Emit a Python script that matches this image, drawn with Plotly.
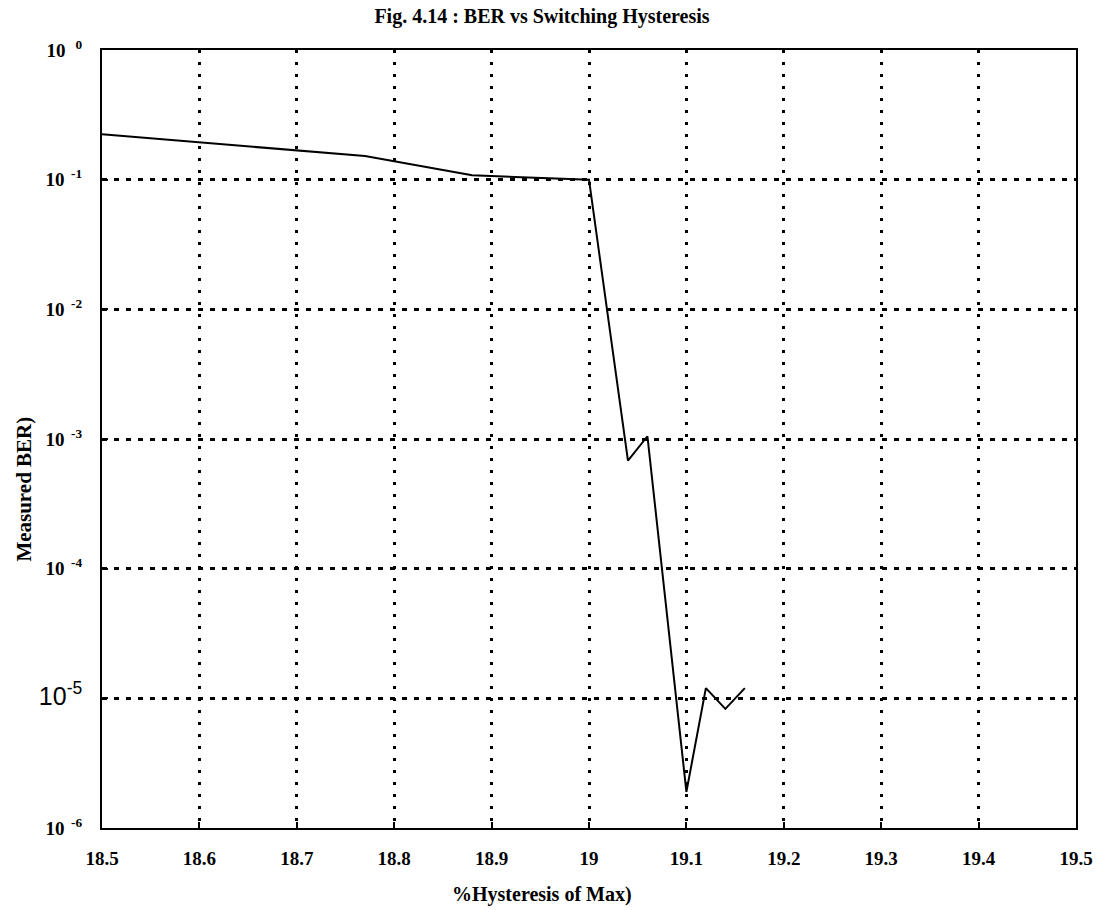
import plotly.graph_objects as go

hysteresis = [18.5, 18.77, 18.88, 19.0, 19.04, 19.06, 19.10, 19.12, 19.14, 19.16]
ber = [0.224, 0.152, 0.108, 0.1, 6.8e-4, 1.05e-3, 1.9e-6, 1.2e-5, 8.3e-6, 1.2e-5]

x_ticks = [18.5, 18.6, 18.7, 18.8, 18.9, 19.0, 19.1, 19.2, 19.3, 19.4, 19.5]
x_tick_text = ["<b>" + t + "</b>" for t in
               ["18.5", "18.6", "18.7", "18.8", "18.9", "19", "19.1", "19.2", "19.3", "19.4", "19.5"]]
y_ticks = [1, 1e-1, 1e-2, 1e-3, 1e-4, 1e-5, 1e-6]
y_tick_text = [
    "<b>10<sup>   0</sup></b>", "<b>10<sup>  -1</sup></b>", "<b>10<sup>  -2</sup></b>",
    "<b>10<sup>  -3</sup></b>", "<b>10<sup>  -4</sup></b>",
    "<span style='font-family:Liberation Sans;font-size:25px'>10<sup>-5</sup></span>",
    "<b>10<sup>  -6</sup></b>",
]

title_text = "<b>Fig. 4.14 : BER vs Switching Hysteresis</b>"
x_title = "<b>%Hysteresis of Max)</b>"
y_title = "<b>Measured BER)</b>"

serif = "Liberation Serif"

fig = go.Figure()
fig.add_trace(go.Scatter(
    x=hysteresis, y=ber, mode="lines",
    line=dict(color="black", width=2),
    showlegend=False,
))

fig.update_layout(
    width=1105, height=910,
    margin=dict(l=102, r=22, t=50, b=82),
    paper_bgcolor="white", plot_bgcolor="white",
    title=dict(text=title_text, xref="container", x=0.4905, xanchor="center",
               yref="container", y=0.9824, yanchor="middle",
               font=dict(family=serif, size=20, color="black")),
    font=dict(family=serif, color="black"),
    annotations=[
        dict(text=x_title, xref="paper", yref="paper", x=0.4516, y=-0.0861,
             xanchor="center", yanchor="middle", showarrow=False,
             font=dict(family=serif, size=20, color="black")),
        dict(text=y_title, xref="paper", yref="paper", x=-0.0805, y=0.4357,
             xanchor="center", yanchor="middle", showarrow=False, textangle=-90,
             font=dict(family=serif, size=21, color="black")),
    ],
)

fig.update_xaxes(
    range=[18.5, 19.5], tickvals=x_ticks, ticktext=x_tick_text,
    tickfont=dict(family=serif, size=19, color="black"),
    showgrid=True, gridcolor="black", griddash="3px,9px", gridwidth=3,
    showline=True, linecolor="black", linewidth=2, mirror=True,
    ticks="inside", ticklen=6, tickcolor="black", tickwidth=2,
    ticklabelstandoff=12,
    zeroline=False,
)
fig.update_yaxes(
    type="log", range=[-6, 0], tickvals=y_ticks, ticktext=y_tick_text,
    tickfont=dict(family=serif, size=19, color="black"),
    showgrid=True, gridcolor="black", griddash="5px,7px", gridwidth=2.5,
    showline=True, linecolor="black", linewidth=2, mirror=True,
    ticks="inside", ticklen=6, tickcolor="black", tickwidth=2,
    ticklabelstandoff=14,
    zeroline=False,
)

fig.write_html("out.html")
